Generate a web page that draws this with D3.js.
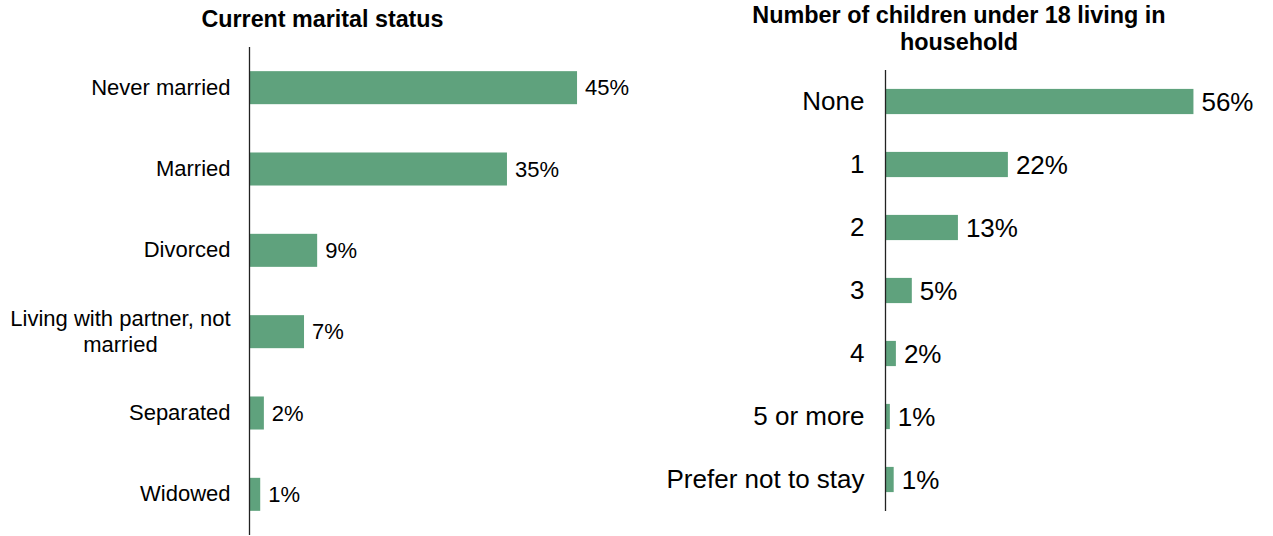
<!DOCTYPE html>
<html>
<head>
<meta charset="utf-8">
<script src="https://cdn.jsdelivr.net/npm/d3@7"></script>
<style>
  html, body { margin: 0; padding: 0; background: #fff; }
  svg { display: block; font-family: "Liberation Sans", Arial, sans-serif; }
</style>
</head>
<body>
<svg id="chart" width="1273" height="536"></svg>
<script>
// ---- Data ----
const maritalTitle = "Current marital status";
const maritalCategories = ["Never married", "Married", "Divorced", "Living with partner, not married", "Separated", "Widowed"];
const maritalValues = [44.8, 35.2, 9.2, 7.4, 1.9, 1.4];

const childrenTitle = ["Number of children under 18 living in", "household"];
const childrenCategories = ["None", "1", "2", "3", "4", "5 or more", "Prefer not to stay"];
const childrenValues = [56.0, 22.2, 13.1, 4.7, 1.8, 0.7, 1.4];

const barColor = "#5fa27d";
const svg = d3.select("#chart");

function wrapLabels(sel, maxWidth, lineHeight, pad, fontSize) {
  sel.each(function() {
    const text = d3.select(this);
    const words = text.text().split(/\s+/);
    text.text(null);
    const lines = [];
    let line = [];
    let tspan = text.append("tspan");
    words.forEach(w => {
      line.push(w);
      tspan.text(line.join(" "));
      if (tspan.node().getComputedTextLength() > maxWidth && line.length > 1) {
        line.pop();
        lines.push(line.join(" "));
        line = [w];
        tspan.text(w);
      }
    });
    lines.push(line.join(" "));
    text.text(null);
    if (lines.length === 1) {
      text.text(lines[0]);
      return;
    }
    const n = lines.length;
    const spans = lines.map((l, i) => text.append("tspan")
      .attr("dy", i === 0 ? (-(n - 1) / 2 * lineHeight + 0.35 * fontSize) + "px" : lineHeight + "px")
      .text(l));
    const maxW = d3.max(spans, s => s.node().getComputedTextLength());
    text.attr("text-anchor", "middle").attr("dy", null);
    spans.forEach(s => s.attr("x", -pad - maxW / 2));
  });
}

function drawPanel(opts) {
  const g = svg.append("g");
  const y = d3.scaleBand()
    .domain(opts.categories)
    .range(opts.yRange)
    .paddingInner(opts.padInner)
    .paddingOuter(opts.padOuter);
  const x = d3.scaleLinear().domain(opts.xDomain).range(opts.xRange);

  // bars
  g.selectAll("rect.bar")
    .data(opts.categories.map((c, i) => ({ c, v: opts.values[i] })))
    .join("rect")
    .attr("class", "bar")
    .attr("x", x(0))
    .attr("y", d => y(d.c))
    .attr("width", d => x(d.v) - x(0))
    .attr("height", y.bandwidth())
    .attr("fill", barColor);

  // value labels
  g.selectAll("text.val")
    .data(opts.categories.map((c, i) => ({ c, v: opts.values[i] })))
    .join("text")
    .attr("class", "val")
    .attr("x", d => x(d.v) + 8)
    .attr("y", d => y(d.c) + y.bandwidth() / 2)
    .attr("dy", "0.35em")
    .attr("font-size", opts.valueSize + "px")
    .attr("fill", "#000")
    .text(d => Math.round(d.v) + "%");

  // category axis
  const axis = d3.axisLeft(y).tickSize(0).tickPadding(opts.tickPad);
  const ag = g.append("g")
    .attr("transform", `translate(${x(0) - 0.5},0)`)
    .call(axis);
  ag.select(".domain").remove();
  ag.append("line")
    .attr("x1", 0).attr("x2", 0)
    .attr("y1", opts.yRange[0]).attr("y2", opts.yRange[1])
    .attr("stroke", "#222").attr("stroke-width", 1.3);
  ag.selectAll(".tick text")
    .attr("font-size", opts.labelSize + "px")
    .attr("font-family", "Liberation Sans, Arial, sans-serif")
    .attr("fill", "#000")
    .call(wrapLabels, opts.wrapWidth, opts.lineHeight, opts.tickPad, opts.labelSize);

  // title
  const t = g.append("text")
    .attr("x", opts.titleX)
    .attr("y", opts.titleY)
    .attr("text-anchor", "middle")
    .attr("font-weight", "bold")
    .attr("font-size", opts.titleSize + "px")
    .attr("fill", "#000");
  opts.title.forEach((line, i) => {
    t.append("tspan").attr("x", opts.titleX).attr("dy", i === 0 ? 0 : opts.titleLine).text(line);
  });
}

drawPanel({
  categories: maritalCategories,
  values: maritalValues,
  yRange: [47, 535],
  padInner: 0.594, padOuter: 0.297,
  xDomain: [0, 50], xRange: [250, 615],
  valueSize: 22, labelSize: 22, tickPad: 19,
  wrapWidth: 230, lineHeight: 26,
  title: [maritalTitle], titleX: 322.5, titleY: 27, titleSize: 23.3, titleLine: 27
});

drawPanel({
  categories: childrenCategories,
  values: childrenValues,
  yRange: [70, 511],
  padInner: 0.6, padOuter: 0.3,
  xDomain: [0, 60], xRange: [886, 1215.4],
  valueSize: 26, labelSize: 26, tickPad: 21,
  wrapWidth: 400, lineHeight: 30,
  title: childrenTitle, titleX: 959, titleY: 23, titleSize: 23.4, titleLine: 27
});
</script>
</body>
</html>
